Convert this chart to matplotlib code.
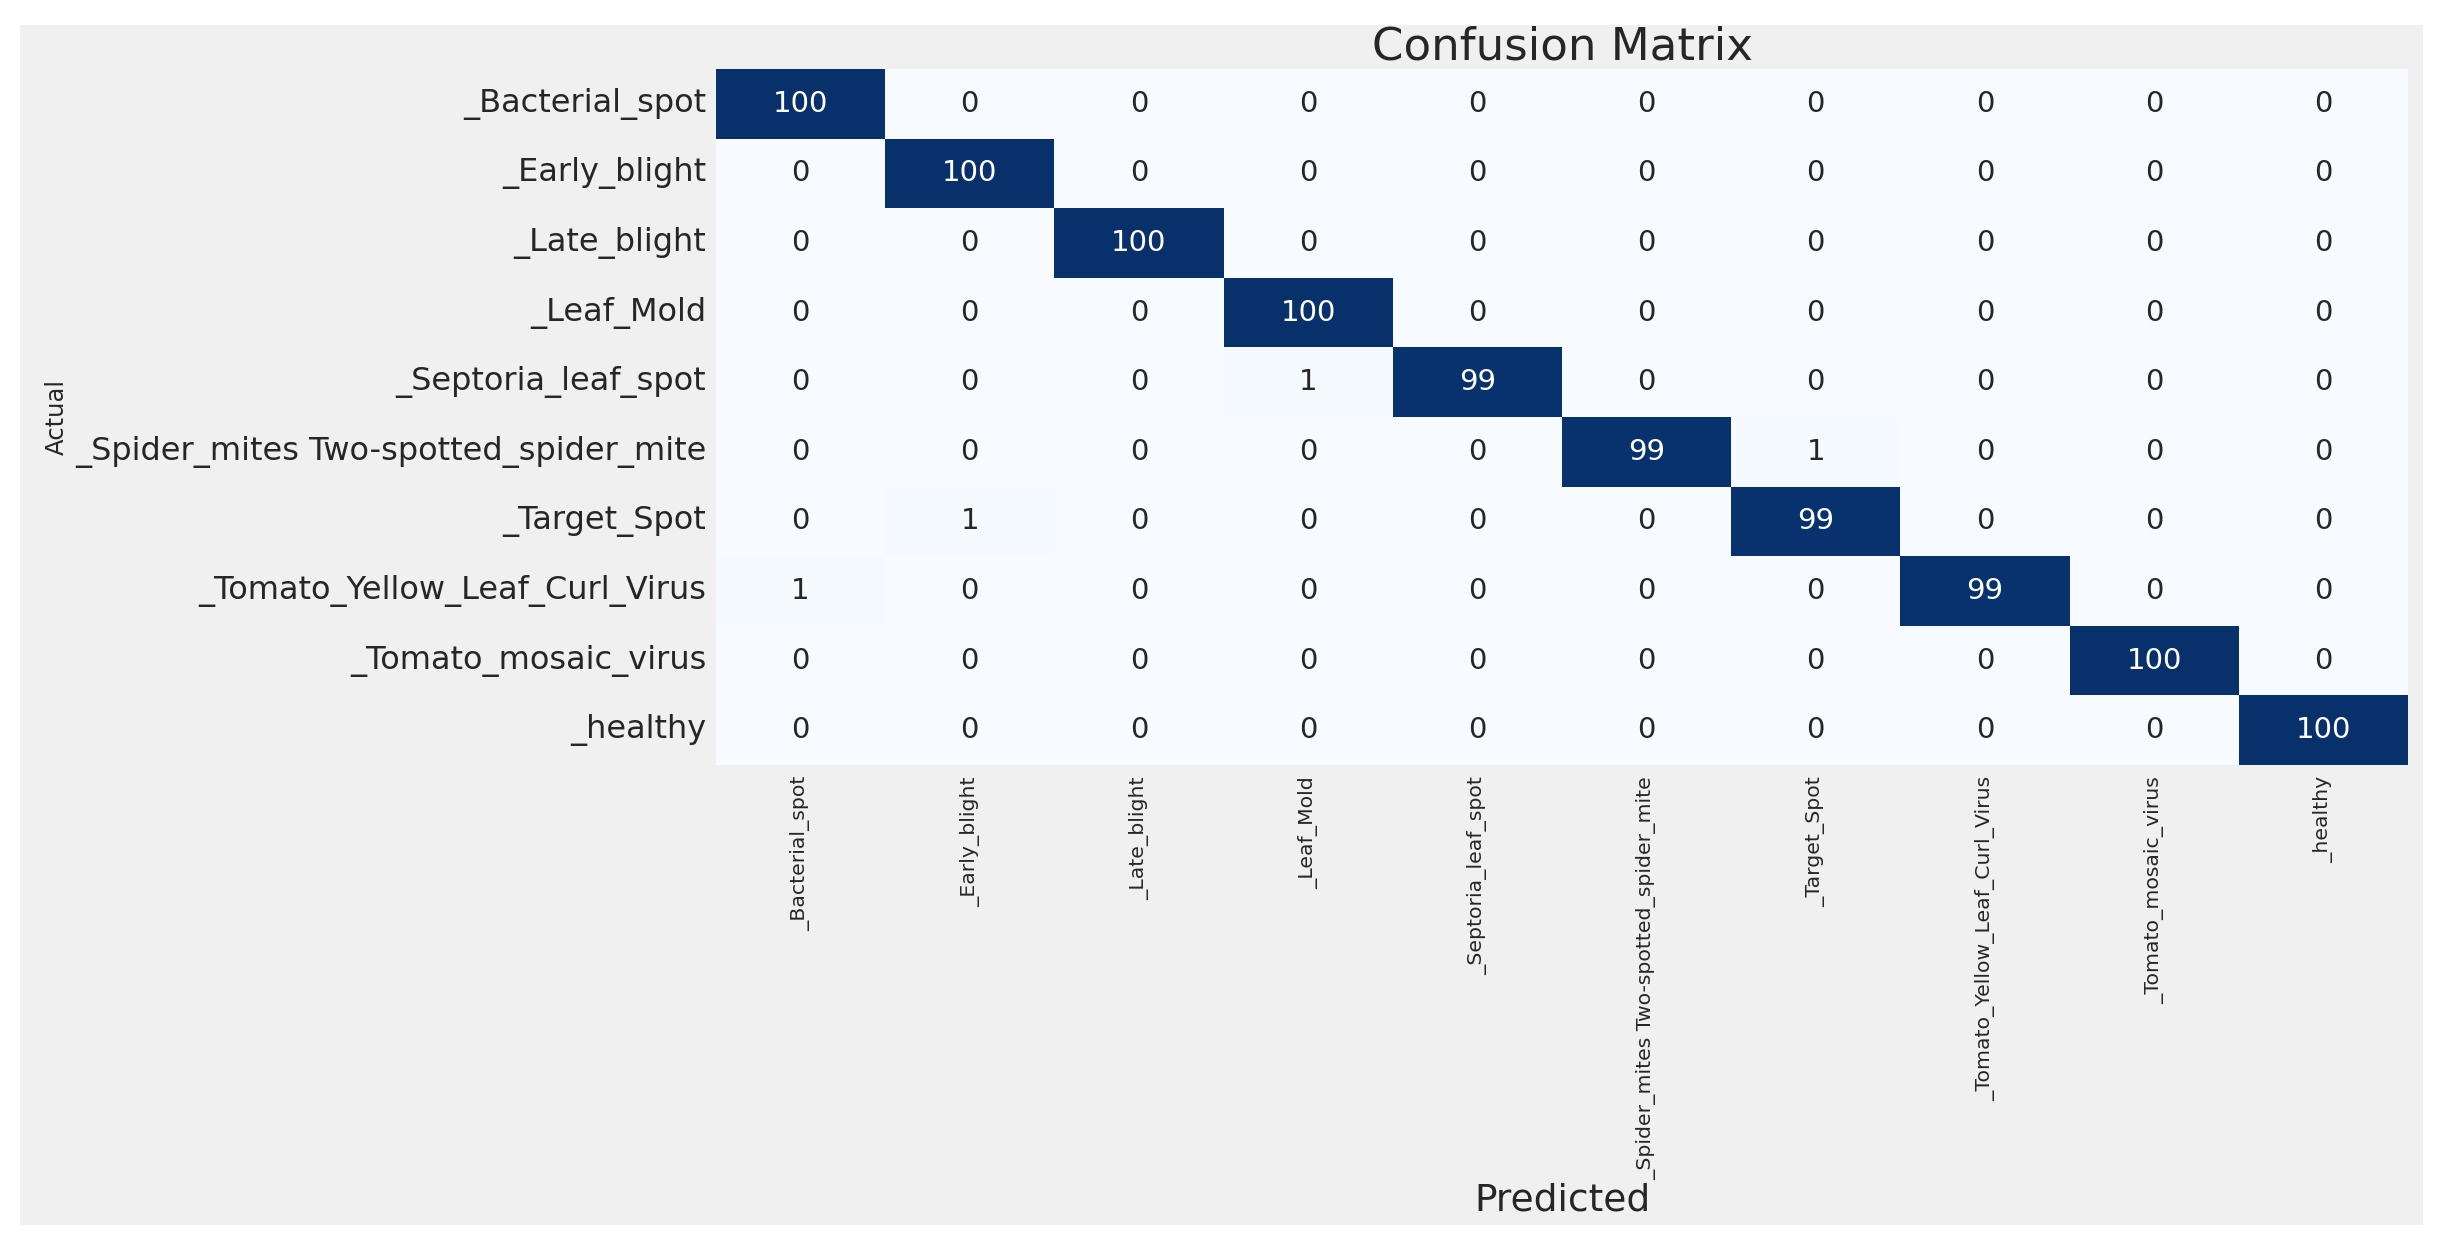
import numpy as np
import matplotlib
matplotlib.use("Agg")
import matplotlib.pyplot as plt
from matplotlib.patches import Rectangle
import seaborn as sns

classes = ["_Bacterial_spot", "_Early_blight", "_Late_blight", "_Leaf_Mold",
           "_Septoria_leaf_spot", "_Spider_mites Two-spotted_spider_mite",
           "_Target_Spot", "_Tomato_Yellow_Leaf_Curl_Virus",
           "_Tomato_mosaic_virus", "_healthy"]

# rows = actual, cols = predicted
cm = np.array([
    [100, 0, 0, 0, 0, 0, 0, 0, 0, 0],
    [0, 100, 0, 0, 0, 0, 0, 0, 0, 0],
    [0, 0, 100, 0, 0, 0, 0, 0, 0, 0],
    [0, 0, 0, 100, 0, 0, 0, 0, 0, 0],
    [0, 0, 0, 1, 99, 0, 0, 0, 0, 0],
    [0, 0, 0, 0, 0, 99, 1, 0, 0, 0],
    [0, 1, 0, 0, 0, 0, 99, 0, 0, 0],
    [1, 0, 0, 0, 0, 0, 0, 99, 0, 0],
    [0, 0, 0, 0, 0, 0, 0, 0, 100, 0],
    [0, 0, 0, 0, 0, 0, 0, 0, 0, 100],
])

W, H = 2447, 1249
fig = plt.figure(figsize=(W / 100, H / 100), dpi=100, facecolor="white")

# grey panel behind everything
fig.patches.append(Rectangle((20 / W, 1 - 1225 / H), 2403 / W, 1200 / H,
                             transform=fig.transFigure, facecolor="#f0f0f0",
                             edgecolor="none", zorder=-10))

ax = fig.add_axes([716 / W, 1 - 765 / H, 1692 / W, 696 / H])
sns.heatmap(cm, annot=True, fmt="d", cmap="Blues", cbar=False, ax=ax,
            xticklabels=classes, yticklabels=classes,
            annot_kws={"fontsize": 21})

ax.tick_params(axis="both", length=0)
ax.tick_params(axis="y", labelsize=23, pad=7, labelcolor="#262626")
ax.tick_params(axis="x", labelsize=14.7, pad=8, labelcolor="#262626")
plt.setp(ax.get_xticklabels(), rotation=90)
plt.setp(ax.get_yticklabels(), rotation=0)

ax.set_title("Confusion Matrix", fontsize=32.5, color="#262626", pad=6)
ax.set_xlabel("Predicted", fontsize=27, color="#262626")
ax.set_ylabel("Actual", fontsize=17.5, color="#262626")
ax.xaxis.set_label_coords(0.5, -0.6)
ax.yaxis.set_label_coords(-0.3824, 0.5)

fig.savefig("out.png", dpi=100, facecolor="white")
